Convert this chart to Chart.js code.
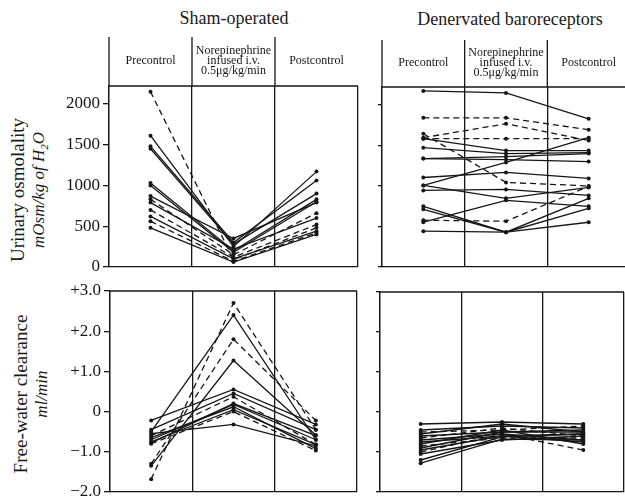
<!DOCTYPE html>
<html>
<head>
<meta charset="utf-8">
<script src="https://cdn.jsdelivr.net/npm/chart.js@4.4.1/dist/chart.umd.min.js"></script>
<style>
html,body{margin:0;padding:0;width:625px;height:496px;overflow:hidden;background:#fff;
  font-family:"Liberation Serif","DejaVu Serif",serif;color:#1a1a1a}
canvas{position:absolute}
.t{position:absolute;white-space:nowrap;font-size:18px;transform:translate(-50%,-50%)}
.rot{position:absolute;white-space:nowrap;text-align:center;line-height:21px;
  transform:translate(-50%,-50%) rotate(-90deg)}
.rot i{font-size:17px}
</style>
</head>
<body>
<div class="t" style="left:234px;top:18px">Sham-operated</div>
<div class="t" style="left:510px;top:19px">Denervated baroreceptors</div>
<div class="rot" style="left:31px;top:190px"><div style="font-size:19px">Urinary osmolality</div><i>mOsm/kg of H<sub style="font-size:11px">2</sub>O</i></div>
<div class="rot" style="left:31px;top:394px"><div style="font-size:19px">Free-water clearance</div><i>ml/min</i></div>

<canvas id="osmSham" width="362" height="272" style="left:0;top:0"></canvas>
<canvas id="osmDen" width="262" height="272" style="left:372px;top:0"></canvas>
<canvas id="fwcSham" width="362" height="216" style="left:0;top:280px"></canvas>
<canvas id="fwcDen" width="258" height="216" style="left:370px;top:280px"></canvas>

<script>
/* ---- data ---- */
const PHASES=[['Precontrol'],['Norepinephrine','infused i.v.','0.5μg/kg/min'],['Postcontrol']];

const OSM_TICKS=[0,500,1000,1500,2000];
const OSM_LABELS=['0','500','1000','1500','2000'];
const FWC_TICKS=[-2,-1,0,1,2,3];
const FWC_LABELS=['−2.0','−1.0','0','+1.0','+2.0','+3.0'];

// urinary osmolality, sham-operated (one entry per dog)
const shamOsmPre =[2150,1610,1480,1450,1030,1000,870,830,790,700,620,560,480];
const shamOsmNE  =[90,250,300,280,200,180,350,150,220,120,100,70,60];
const shamOsmPost=[480,1170,1060,900,830,800,790,660,600,520,440,420,400];
const shamOsmDashed=[0,7,9,11];

// urinary osmolality, denervated baroreceptors
const denOsmPre =[2172,1840,1595,1644,1583,1583,1472,1337,1337,1104,1006,1006,945,748,712,577,552,442];
const denOsmNE  =[2147,1840,1767,1043,1583,1436,1399,1325,1362,1166,1290,847,957,429,429,564,822,429];
const denOsmPost=[1828,1693,1560,1000,1583,1436,1411,1300,1399,1092,1595,982,883,847,724,994,748,552];
const denOsmDashed=[1,2,3,4,15];

// free-water clearance, sham-operated
const shamFwcPre =[-1.68,-0.5,-1.3,-1.35,-0.22,-0.45,-0.6,-0.7,-0.65,-0.75,-0.8,-0.55,-0.78];
const shamFwcNE  =[2.7,2.4,1.8,1.27,0.55,0.45,0.37,0.18,0.12,0.05,0.0,-0.32,0.2];
const shamFwcPost=[-0.45,-0.7,-0.22,-0.58,-0.32,-0.45,-0.82,-0.7,-0.92,-0.82,-0.97,-0.85,-0.6];
const shamFwcDashed=[0,2,6,10];

// free-water clearance, denervated baroreceptors
const denFwcPre =[-0.3,-0.45,-0.5,-0.55,-0.6,-0.65,-0.7,-0.75,-0.8,-0.85,-0.9,-0.95,-1.0,-1.05,-1.2,-1.28];
const denFwcNE  =[-0.25,-0.35,-0.45,-0.3,-0.5,-0.4,-0.55,-0.6,-0.45,-0.65,-0.5,-0.6,-0.55,-0.7,-0.62,-0.68];
const denFwcPost=[-0.3,-0.4,-0.35,-0.5,-0.45,-0.6,-0.7,-0.55,-0.8,-0.65,-0.5,-0.75,-0.95,-0.6,-0.55,-0.7];
const denFwcDashed=[2,5,9,12];

/* ---- drawing ---- */
const INK='#161616';
const SERIF='"Liberation Serif","DejaVu Serif",serif';

function lines(pre,ne,post,dashed){
  return pre.map((v,i)=>({data:[v,ne[i],post[i]],borderColor:INK,backgroundColor:INK,
    borderWidth:1.3,pointRadius:2,pointBorderWidth:0,borderDash:dashed.includes(i)?[6,4]:[]}));
}

// top frame line, vertical lines running up into the header and the header text
const frame={id:'frame',afterDraw(chart,args,o){
  const {ctx,chartArea:a}=chart, w=a.width/3;
  ctx.save(); ctx.strokeStyle=INK; ctx.lineWidth=1.3;
  ctx.beginPath(); ctx.moveTo(a.left,a.top); ctx.lineTo(a.right,a.top); ctx.stroke();
  if(o.headTop!=null){
    for(let i=0;i<3;i++){ctx.beginPath();ctx.moveTo(a.left+i*w,o.headTop);ctx.lineTo(a.left+i*w,a.top);ctx.stroke();}
    ctx.fillStyle=INK; ctx.font='12px '+SERIF; ctx.textAlign='center'; ctx.textBaseline='middle';
    const mid=(o.headTop+a.top)/2;
    chart.data.labels.forEach((ls,i)=>{const x=chart.scales.x.getPixelForValue(i);
      ls.forEach((t,j)=>ctx.fillText(t,x,mid-1+(j-(ls.length-1)/2)*10));});
  }
  ctx.restore();
}};

function panel(id,datasets,o){
  new Chart(document.getElementById(id),{
    type:'line',
    data:{labels:PHASES,datasets},
    plugins:[frame],
    options:{
      responsive:false,animation:false,
      layout:{padding:o.pad},
      plugins:{legend:{display:false},tooltip:{enabled:false},frame:o.frame},
      scales:{
        x:{type:'category',offset:true,afterFit:s=>{s.height=0;},
          ticks:{display:false},
          grid:{offset:true,drawTicks:false,lineWidth:1.3,
            color:c=>(c.index===3&&!o.rightEdge)?'rgba(0,0,0,0)':INK},
          border:{display:true,color:INK,width:1.3}},
        y:{min:o.min,max:o.max,
          afterBuildTicks:s=>{s.ticks=o.ticks.map(v=>({value:v}));},
          afterFit:s=>{s.width=o.yw;s.paddingTop=0;s.paddingBottom=0;},
          ticks:{display:!!o.labels,callback:(v,i)=>o.labels?o.labels[i]:'',
            color:INK,padding:3,font:{family:SERIF,size:17}},
          grid:{drawOnChartArea:false,tickLength:o.labels?6:4,color:INK,lineWidth:1.3},
          border:{color:INK,width:1.3}}
      }
    }
  });
}

panel('osmSham',lines(shamOsmPre,shamOsmNE,shamOsmPost,shamOsmDashed),
  {min:0,max:2220,ticks:OSM_TICKS,labels:OSM_LABELS,yw:109,
   pad:{top:86,right:4,bottom:5,left:0},frame:{headTop:37},rightEdge:false});
panel('osmDen',lines(denOsmPre,denOsmNE,denOsmPost,denOsmDashed),
  {min:0,max:2220,ticks:OSM_TICKS,yw:10,
   pad:{top:87,right:0,bottom:5,left:0},frame:{headTop:40},rightEdge:false});
panel('fwcSham',lines(shamFwcPre,shamFwcNE,shamFwcPost,shamFwcDashed),
  {min:-2,max:3,ticks:FWC_TICKS,labels:FWC_LABELS,yw:110,
   pad:{top:11,right:5,bottom:4,left:0},frame:{},rightEdge:true});
panel('fwcDen',lines(denFwcPre,denFwcNE,denFwcPost,denFwcDashed),
  {min:-2,max:3,ticks:FWC_TICKS,yw:10,
   pad:{top:12,right:0,bottom:4,left:0},frame:{},rightEdge:true});
</script>
</body>
</html>
